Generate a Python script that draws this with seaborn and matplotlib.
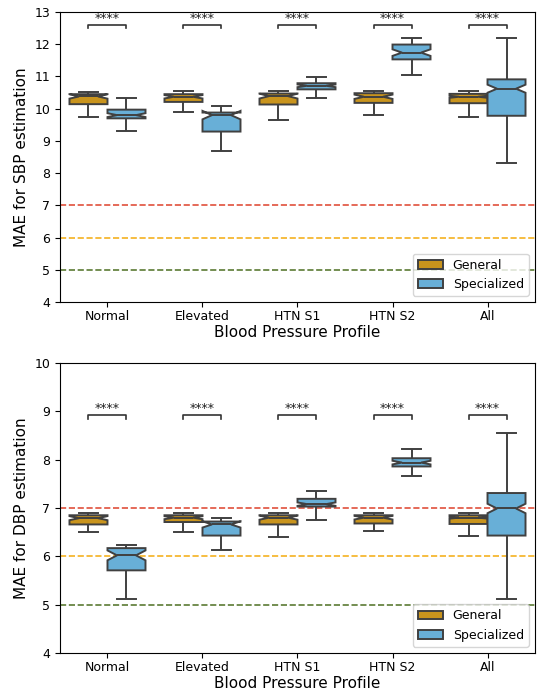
import numpy as np
import pandas as pd
import seaborn as sns
import matplotlib.pyplot as plt

categories = ["Normal", "Elevated", "HTN S1", "HTN S2", "All"]
models = ["General", "Specialized"]
n_per_group = [50, 50, 50, 50, 200]

# box stats: min, q1, median, q3, max
sbp_gen_min = [9.75, 9.90, 9.64, 9.81, 9.73]
sbp_gen_q1 = [10.14, 10.21, 10.13, 10.18, 10.17]
sbp_gen_med = [10.38, 10.37, 10.39, 10.37, 10.37]
sbp_gen_q3 = [10.45, 10.45, 10.47, 10.48, 10.46]
sbp_gen_max = [10.53, 10.54, 10.55, 10.54, 10.54]

sbp_spe_min = [9.32, 8.70, 10.33, 11.05, 8.30]
sbp_spe_q1 = [9.70, 9.29, 10.60, 11.53, 9.78]
sbp_spe_med = [9.80, 9.80, 10.71, 11.74, 10.62]
sbp_spe_q3 = [9.97, 9.88, 10.79, 11.99, 10.91]
sbp_spe_max = [10.34, 10.08, 10.98, 12.20, 12.20]

dbp_gen_min = [6.50, 6.50, 6.40, 6.52, 6.43]
dbp_gen_q1 = [6.66, 6.71, 6.66, 6.68, 6.67]
dbp_gen_med = [6.79, 6.80, 6.80, 6.80, 6.80]
dbp_gen_q3 = [6.85, 6.85, 6.85, 6.85, 6.85]
dbp_gen_max = [6.90, 6.90, 6.90, 6.90, 6.90]

dbp_spe_min = [5.11, 6.13, 6.75, 7.67, 5.11]
dbp_spe_q1 = [5.71, 6.43, 7.03, 7.86, 6.43]
dbp_spe_med = [6.02, 6.66, 7.08, 7.94, 6.99]
dbp_spe_q3 = [6.17, 6.72, 7.19, 8.03, 7.31]
dbp_spe_max = [6.24, 6.79, 7.35, 8.22, 8.56]

thresholds = [7, 6, 5]
threshold_colors = ["#e0503c", "#f5b120", "#5b7a33"]
palette = ["#E69F00", "#56B4E9"]


def build_frame(gen, spe):
    rows = []
    for model, stats in zip(models, [gen, spe]):
        for i, cat in enumerate(categories):
            vals = [s[i] for s in stats]
            k = n_per_group[i] // 5
            for v in np.repeat(vals, k):
                rows.append({"Profile": cat, "Model": model, "MAE": v})
    return pd.DataFrame(rows)


df_sbp = build_frame([sbp_gen_min, sbp_gen_q1, sbp_gen_med, sbp_gen_q3, sbp_gen_max],
                     [sbp_spe_min, sbp_spe_q1, sbp_spe_med, sbp_spe_q3, sbp_spe_max])
df_dbp = build_frame([dbp_gen_min, dbp_gen_q1, dbp_gen_med, dbp_gen_q3, dbp_gen_max],
                     [dbp_spe_min, dbp_spe_q1, dbp_spe_med, dbp_spe_q3, dbp_spe_max])

fig = plt.figure(figsize=(5.37, 6.94), dpi=100)
ax1 = fig.add_axes([0.1117, 0.5648, 0.8846, 0.4179])
ax2 = fig.add_axes([0.1117, 0.0591, 0.8846, 0.4178])


def draw(ax, df, ylabel, ylim, bracket_y, leg):
    for t, c in zip(thresholds, threshold_colors):
        ax.axhline(t, color=c, ls="--", lw=1.2, zorder=0)
    sns.boxplot(data=df, x="Profile", y="MAE", hue="Model", order=categories,
                hue_order=models, palette=palette, notch=True, whis=(0, 100),
                linecolor="#404040", linewidth=1.4, ax=ax)
    # significance brackets
    for i in range(len(categories)):
        x0, x1 = i - 0.2, i + 0.2
        ax.plot([x0, x0, x1, x1], [bracket_y - leg, bracket_y, bracket_y, bracket_y - leg],
                color="#333333", lw=1.2)
        ax.text(i, bracket_y, "****", ha="center", va="bottom", fontsize=9, color="#222222")
    ax.set_ylim(*ylim)
    ax.set_xlim(-0.5, 4.5)
    ax.set_ylabel(ylabel, fontsize=11)
    ax.set_xlabel("Blood Pressure Profile", fontsize=11, labelpad=2)
    ax.tick_params(labelsize=9)
    ax.tick_params(axis="x", pad=2)
    sns.move_legend(ax, "lower right", title=None, fontsize=9)


draw(ax1, df_sbp, "MAE for SBP estimation", (4, 13), 12.6, 0.1)
draw(ax2, df_dbp, "MAE for DBP estimation", (4, 10), 8.93, 0.09)

fig.savefig("out.png", dpi=100)
